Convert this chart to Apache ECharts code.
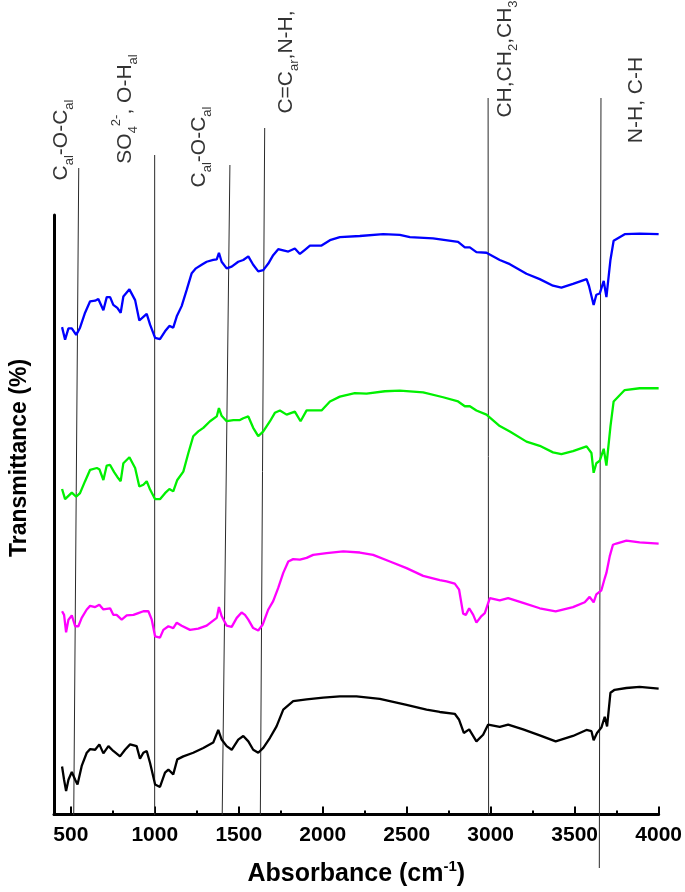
<!DOCTYPE html>
<html>
<head>
<meta charset="utf-8">
<script src="https://cdn.jsdelivr.net/npm/echarts@6/dist/echarts.min.js"></script>
<style>
html,body{margin:0;padding:0;background:#fff;}
#chart{width:685px;height:892px;}
</style>
</head>
<body>
<div id="chart"></div>
<script>
// ---- Data (wavenumber in cm-1, offset transmittance in arbitrary %) ----
var blueX = [448,466,486,506,532,555,585,615,645,664,694,714,734,753,777,797,813,849,883,908,932,952,972,1002,1031,1061,1087,1110,1131,1160,1190,1220,1245,1279,1309,1348,1369,1382,1398,1428,1458,1497,1527,1557,1586,1616,1646,1676,1705,1735,1765,1795,1834,1864,1894,1924,1993,2043,2102,2221,2360,2459,2519,2657,2806,2846,2876,2915,2975,3054,3114,3213,3292,3371,3421,3490,3571,3585,3613,3629,3649,3673,3689,3713,3732,3798,3887,4000];
var blueY = [81.3,79.2,81.1,81.1,80.0,81.2,83.7,85.6,85.7,86.0,84.1,86.3,86.3,85.0,84.5,83.7,86.4,87.6,85.8,82.4,83.0,83.5,81.7,79.5,79.3,80.6,81.5,81.2,83.1,84.8,87.5,90.3,91.1,91.7,92.2,92.5,92.6,93.7,92.2,91.1,91.4,92.2,92.5,93.1,91.7,90.6,90.8,91.9,93.3,94.3,94.1,93.9,94.4,93.5,94.2,94.9,94.9,95.8,96.3,96.5,96.8,96.7,96.3,96.1,95.5,94.6,94.6,93.8,93.7,92.5,91.8,90.2,89.3,88.2,87.9,88.5,89.3,88.2,85.0,86.7,86.9,89.0,86.3,92.5,95.7,96.8,96.9,96.8];

var greenX = [448,466,506,532,555,585,615,655,670,694,714,734,758,777,797,813,849,883,908,932,952,972,1002,1031,1061,1087,1110,1134,1170,1200,1229,1259,1289,1329,1369,1382,1398,1428,1468,1507,1527,1557,1586,1616,1646,1686,1715,1745,1785,1834,1868,1904,1993,2043,2102,2191,2261,2370,2459,2598,2717,2806,2846,2876,2915,2975,3054,3114,3213,3292,3371,3421,3490,3571,3600,3613,3629,3649,3673,3689,3713,3732,3798,3887,4000];
var greenY = [54.3,52.6,53.7,53.0,53.6,55.6,57.5,57.8,57.6,55.8,58.2,58.3,57.1,56.3,55.6,58.6,59.6,57.8,54.7,55.0,55.6,54.2,52.6,52.6,53.6,54.3,53.9,55.8,57.2,60.3,63.1,63.9,64.5,65.6,66.4,67.8,66.5,65.6,65.8,65.8,66.1,66.4,64.5,63.1,63.9,65.6,67.0,67.4,66.7,67.2,65.6,67.4,67.4,68.9,69.7,70.3,70.2,70.6,70.7,70.4,69.6,68.9,68.1,68.1,67.4,66.7,64.8,63.9,62.2,61.5,60.4,60.1,60.6,61.4,60.3,57.0,58.6,59.0,61.0,58.2,64.7,68.9,70.8,71.1,71.1];

var magentaX = [448,460,472,486,506,526,545,565,595,615,645,670,694,714,734,753,773,803,833,873,902,932,962,982,1002,1031,1051,1081,1110,1131,1160,1210,1259,1309,1369,1382,1398,1428,1458,1488,1517,1537,1557,1586,1616,1643,1676,1705,1735,1765,1795,1824,1864,1904,1943,2023,2122,2221,2300,2400,2499,2598,2697,2737,2786,2812,2836,2852,2872,2896,2915,2945,2965,2995,3054,3104,3193,3292,3387,3490,3560,3589,3613,3629,3659,3679,3689,3709,3728,3748,3808,3887,4000];
var magentaY = [33.9,33.3,30.4,32.5,33.2,31.4,31.4,32.8,34.2,34.8,34.6,35.0,34.2,34.3,34.4,33.3,33.3,32.5,33.2,33.3,33.6,33.9,33.9,32.5,29.7,29.5,30.8,31.4,31.1,32.0,31.5,30.8,31.0,31.5,32.8,34.6,33.1,31.5,31.3,32.8,33.7,33.3,32.5,31.1,30.7,31.7,34.2,35.6,37.8,40.3,42.2,42.6,42.5,42.8,43.3,43.6,43.9,43.7,43.3,42.2,41.1,39.8,39.1,38.9,38.5,37.5,33.5,33.3,34.4,33.3,32.0,33.1,33.6,36.1,35.7,36.1,35.3,34.4,33.9,34.6,35.4,36.3,35.4,36.7,37.4,39.4,40.3,43.1,45.0,45.2,45.7,45.4,45.2];

var blackX = [448,460,472,486,506,526,540,565,595,615,645,670,694,724,753,793,823,853,892,912,932,952,972,1002,1031,1061,1081,1110,1134,1170,1229,1289,1348,1378,1398,1428,1458,1497,1527,1557,1586,1616,1646,1686,1725,1765,1824,1904,2003,2102,2201,2340,2499,2618,2697,2786,2812,2840,2872,2915,2955,2985,3054,3104,3193,3292,3387,3490,3570,3600,3613,3633,3659,3679,3693,3713,3738,3808,3887,4000];
var blackY = [8.0,5.8,3.9,5.8,7.1,5.8,5.0,8.1,10.3,10.9,10.8,11.7,10.2,11.4,10.6,9.7,10.8,11.7,11.4,9.3,10.3,10.6,8.6,5.0,4.6,7.0,7.5,6.7,9.2,9.7,10.3,11.1,12.0,14.1,12.5,11.4,10.8,12.5,13.1,12.2,10.8,10.3,11.1,12.8,14.7,17.5,18.9,19.2,19.5,19.7,19.7,19.3,18.3,17.5,17.1,16.8,15.8,13.6,14.2,12.2,13.3,15.0,14.6,15.0,14.2,13.2,12.2,13.1,14.1,13.9,12.4,13.6,14.5,16.3,14.7,20.3,20.8,21.1,21.3,21.0];

// x-axis ticks
var majorTicks = [500,1000,1500,2000,2500,3000,3500,4000];
var minorTicks = [500,750,1000,1250,1500,1750,2000,2250,2500,2750,3000,3250,3500,3750,4000];

// band annotations (guide lines: top / bottom wavenumber and height above the x axis, in px units of the overlay axis)
var annotTopX    = [530, 984, 1434, 1642, 2978, 3653];
var annotTopH    = [647, 660, 650, 687, 717, 717];
var annotBottomX = [500, 984, 1388, 1616, 2981, 3643];
var annotBottomH = [0, 0, 0, 0, 0, -53];
var annotLabelX  = [424, 805, 1251, 1769, 3078, 3863];
var annotLabelH  = [675, 706, 668, 753, 756, 715];
var annotLabelText = [
  '{n|C}{sub|al}{n|-O-C}{sub|al}',
  '{n|SO}{sub|4}{sup|2-}{n|, O-H}{sub|al}',
  '{n|C}{sub|al}{n|-O-C}{sub|al}',
  '{n|C=C}{sub|ar}{n|,N-H,}',
  '{n|CH,CH}{sub|2}{n|,CH}{sub|3}',
  '{n|N-H, C-H}'
];

function pairs(xs, ys){ return xs.map(function(x,i){ return [x, ys[i]]; }); }

var FONT = '"Liberation Sans", Arial, sans-serif';
var chart = echarts.init(document.getElementById('chart'), null, {renderer:'canvas'});

var series = [];
annotTopX.forEach(function(x,i){
  series.push({
    type:'line', xAxisIndex:2, yAxisIndex:1, silent:true, symbol:'none', z:1,
    lineStyle:{color:'#2a2a2a', width:1},
    data:[[annotBottomX[i], annotBottomH[i]],[x, annotTopH[i]]]
  });
});
series.push({
  type:'scatter', xAxisIndex:2, yAxisIndex:1, silent:true, symbolSize:1,
  itemStyle:{color:'rgba(0,0,0,0)'}, z:5,
  data: annotLabelX.map(function(x,i){
    return {value:[x, annotLabelH[i]], label:{formatter: annotLabelText[i]}};
  }),
  label:{
    show:true, position:'inside', rotate:90,
    rich:{
      n:{fontFamily:FONT, fontSize:21, color:'#000', lineHeight:30, verticalAlign:'middle'},
      sub:{fontFamily:FONT, fontSize:13, color:'#000', lineHeight:13, verticalAlign:'bottom'},
      sup:{fontFamily:FONT, fontSize:13, color:'#000', lineHeight:13, verticalAlign:'top'}
    }
  }
});
[['Blue', blueX, blueY, '#0000ff'],
 ['Green', greenX, greenY, '#00f000'],
 ['Magenta', magentaX, magentaY, '#ff00ff'],
 ['Black', blackX, blackY, '#000000']].forEach(function(s){
  series.push({
    name:s[0], type:'line', xAxisIndex:0, yAxisIndex:0, symbol:'none', z:3,
    lineStyle:{color:s[3], width:2.3}, data:pairs(s[1], s[2])
  });
});

chart.setOption({
  animation:false,
  backgroundColor:'#fff',
  grid:[
    {left:54, right:26, top:215, bottom:77},
    {left:54, right:26, top:24, bottom:0}
  ],
  xAxis:[
    {gridIndex:0, type:'value', min:400, max:4000, position:'bottom',
     axisLine:{show:true, lineStyle:{color:'#000', width:3}},
     axisTick:{show:true, inside:true, length:4, customValues:minorTicks, lineStyle:{color:'#000', width:2}},
     axisLabel:{show:true, customValues:majorTicks, margin:10, fontFamily:FONT, fontSize:21, fontWeight:'bold', color:'#000',
                formatter:function(v){ return String(v); }},
     splitLine:{show:false},
     name:'{a|Absorbance (cm}{s|-1}{a|)}', nameLocation:'middle', nameGap:45,
     nameTextStyle:{rich:{
       a:{fontFamily:FONT, fontSize:25, fontWeight:'bold', color:'#000', lineHeight:30, verticalAlign:'middle'},
       s:{fontFamily:FONT, fontSize:15, fontWeight:'bold', color:'#000', lineHeight:15, verticalAlign:'top'}
     }}
    },
    {gridIndex:0, type:'value', min:400, max:4000, position:'bottom', offset:0,
     axisLine:{show:false},
     axisTick:{show:true, inside:true, length:8, customValues:majorTicks, lineStyle:{color:'#000', width:2}},
     axisLabel:{show:false}, splitLine:{show:false}
    },
    {gridIndex:1, type:'value', min:400, max:4000, show:false}
  ],
  yAxis:[
    {gridIndex:0, type:'value', min:0, max:100,
     axisLine:{show:true, lineStyle:{color:'#000', width:3}},
     axisTick:{show:false}, axisLabel:{show:false}, splitLine:{show:false}
    },
    {gridIndex:1, type:'value', min:-77, max:791,
     axisLine:{show:false}, axisTick:{show:false}, axisLabel:{show:false}, splitLine:{show:false},
     name:'Transmittance (%)', nameLocation:'middle', nameRotate:90, nameGap:26,
     nameTextStyle:{fontFamily:FONT, fontSize:23, fontWeight:'bold', color:'#000'}
    }
  ],
  series:series
});
</script>
</body>
</html>
